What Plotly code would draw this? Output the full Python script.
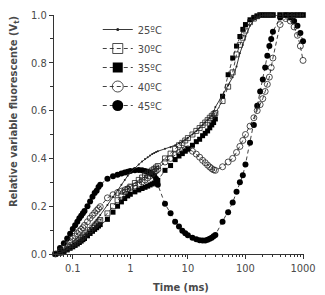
import plotly.graph_objects as go

# Time points (ms)
time_ms = [0.05, 0.06, 0.07, 0.08, 0.09, 0.10, 0.11, 0.12, 0.13, 0.14, 0.15, 0.16, 0.18, 0.20, 0.22, 0.24, 0.26, 0.28, 0.30,
           0.4, 0.5, 0.6, 0.7, 0.8, 0.9, 1.0, 1.2, 1.4, 1.6, 1.8, 2.0, 2.2, 2.4, 2.6, 2.8, 3.0,
           4, 5, 6, 7, 8, 9, 10, 12, 14, 16, 18, 20, 22, 24, 26, 28, 30,
           40, 50, 60, 70, 80, 90, 100, 120, 140, 160, 180, 200, 220, 240, 260, 280, 300,
           400, 500, 600, 700, 800, 900, 1000]

v25 = [0.0, 0.005, 0.012, 0.02, 0.028, 0.036, 0.044, 0.052, 0.06, 0.067, 0.074, 0.081, 0.095, 0.108, 0.12, 0.132, 0.143, 0.153, 0.163,
       0.205, 0.24, 0.268, 0.29, 0.31, 0.327, 0.34, 0.36, 0.375, 0.387, 0.397, 0.405, 0.412, 0.418, 0.423, 0.427, 0.43,
       0.44, 0.447, 0.455, 0.463, 0.47, 0.478, 0.486, 0.50, 0.515, 0.528, 0.54, 0.55, 0.56, 0.57, 0.58, 0.595, 0.615,
       0.665, 0.705, 0.74, 0.785, 0.84, 0.875, 0.91, 0.955, 0.98, 0.99, 0.995, 1.0, 1.0, 1.0, 1.0, 1.0, 1.0,
       1.0, 1.0, 1.0, 1.0, 1.0, 1.0, 1.0]

v30 = [0.0, 0.006, 0.014, 0.022, 0.03, 0.038, 0.045, 0.052, 0.059, 0.066, 0.072, 0.078, 0.09, 0.10, 0.11, 0.119, 0.127, 0.135, 0.142,
       0.17, 0.2, 0.225, 0.245, 0.26, 0.272, 0.282, 0.297, 0.31, 0.32, 0.33, 0.337, 0.344, 0.35, 0.356, 0.362, 0.368,
       0.40, 0.42, 0.44, 0.455, 0.465, 0.475, 0.485, 0.50, 0.515, 0.527, 0.54, 0.55, 0.56, 0.57, 0.578, 0.585, 0.59,
       0.64, 0.70, 0.76, 0.835, 0.875, 0.905, 0.935, 0.97, 0.985, 0.995, 1.0, 1.0, 1.0, 1.0, 1.0, 1.0, 1.0,
       1.0, 1.0, 1.0, 1.0, 1.0, 1.0, 1.0]

v35 = [0.0, 0.004, 0.01, 0.017, 0.024, 0.03, 0.036, 0.042, 0.048, 0.054, 0.06, 0.065, 0.076, 0.086, 0.095, 0.103, 0.11, 0.117, 0.123,
       0.145, 0.175, 0.2, 0.218, 0.232, 0.243, 0.25, 0.26, 0.268, 0.274, 0.279, 0.284, 0.289, 0.293, 0.297, 0.302, 0.308,
       0.35, 0.37, 0.395, 0.41, 0.42, 0.43, 0.44, 0.455, 0.47, 0.48, 0.495, 0.505, 0.515, 0.528, 0.54, 0.55, 0.565,
       0.66, 0.75, 0.82, 0.87, 0.91, 0.94, 0.96, 0.98, 0.99, 0.995, 1.0, 1.0, 1.0, 1.0, 1.0, 1.0, 1.0,
       1.0, 1.0, 1.0, 1.0, 1.0, 1.0, 1.0]

v40 = [0.0, 0.012, 0.025, 0.04, 0.052, 0.065, 0.075, 0.085, 0.095, 0.103, 0.11, 0.12, 0.135, 0.15, 0.162, 0.172, 0.182, 0.19, 0.198,
       0.235, 0.248, 0.257, 0.263, 0.268, 0.273, 0.278, 0.285, 0.293, 0.302, 0.31, 0.318, 0.326, 0.334, 0.342, 0.348, 0.354,
       0.385, 0.40, 0.415, 0.425, 0.433, 0.438, 0.44, 0.43, 0.418, 0.405, 0.392, 0.382, 0.372, 0.364, 0.357, 0.352, 0.35,
       0.365, 0.385, 0.40, 0.425, 0.45, 0.475, 0.50, 0.535, 0.57, 0.60, 0.625, 0.65, 0.68, 0.71, 0.74, 0.78, 0.82,
       0.96, 0.985, 0.975, 0.95, 0.915, 0.87, 0.81]

v45 = [0.0, 0.025, 0.045, 0.065, 0.085, 0.105, 0.12, 0.135, 0.15, 0.16, 0.17, 0.18, 0.20, 0.22, 0.24, 0.255, 0.265, 0.28, 0.29,
       0.315, 0.325, 0.332, 0.337, 0.341, 0.344, 0.347, 0.35, 0.351, 0.35, 0.347, 0.344, 0.34, 0.335, 0.328, 0.315, 0.29,
       0.21, 0.17, 0.135, 0.115, 0.097, 0.087, 0.078, 0.068, 0.062, 0.058, 0.057, 0.057, 0.06, 0.064, 0.068, 0.074, 0.08,
       0.135, 0.175, 0.215, 0.26, 0.30, 0.33, 0.375, 0.465, 0.54, 0.62, 0.68, 0.73, 0.78, 0.83, 0.87, 0.90, 0.93,
       0.99, 1.0, 0.99, 0.975, 0.955, 0.925, 0.89]

labels = ["25ºC", "30ºC", "35ºC", "40ºC", "45ºC"]
x_tick_vals = [0.1, 1, 10, 100, 1000]
x_tick_text = ["0.1", "1", "10", "100", "1000"]
y_tick_vals = [0.0, 0.2, 0.4, 0.6, 0.8, 1.0]

FONT = "Liberation Sans Narrow, Arial Narrow, DejaVu Sans Condensed, sans-serif"
TXT = "#4a4a4a"

styles = [
    dict(line=dict(color="#222", width=0.9), marker=dict(symbol="circle", size=2, color="#222"), lmsize=3),
    dict(line=dict(color="#111", width=0.8, dash="4px,3px"),
         marker=dict(symbol="square-open", size=5, color="#222", line=dict(width=0.8)), lmsize=10),
    dict(line=dict(color="#111", width=0.8, dash="4px,3px"),
         marker=dict(symbol="square", size=5, color="#000"), lmsize=10),
    dict(line=dict(color="#111", width=0.8, dash="4px,3px"),
         marker=dict(symbol="circle-open", size=6, color="#222", line=dict(width=0.8)), lmsize=11),
    dict(line=dict(color="#111", width=0.8, dash="4px,3px"),
         marker=dict(symbol="circle", size=6, color="#000"), lmsize=11),
]

series = [v25, v30, v35, v40, v45]

fig = go.Figure()
for i in [4, 3, 2, 1, 0]:
    st = styles[i]
    fig.add_trace(go.Scatter(x=time_ms, y=series[i], mode="lines+markers",
                             line=st["line"], marker=st["marker"], showlegend=False,
                             cliponaxis=False, hoverinfo="skip"))

for i in range(5):
    st = styles[i]
    mk = dict(st["marker"])
    mk["size"] = st["lmsize"]
    fig.add_trace(go.Scatter(x=[None], y=[None], mode="lines+markers", name=labels[i],
                             line=st["line"], marker=mk, showlegend=True))

minor_vals = []
for e in range(-2, 3):
    for k in range(2, 10):
        v = k * 10 ** e
        if 0.047 <= v <= 1000:
            minor_vals.append(v)

fig.update_layout(
    width=325, height=295,
    margin=dict(l=54, r=18, t=9, b=41),
    paper_bgcolor="white", plot_bgcolor="white",
    font=dict(family=FONT, size=11, color=TXT),
    showlegend=True,
    legend=dict(x=0.175, y=1.0, xanchor="left", yanchor="top",
                bgcolor="rgba(0,0,0,0)", borderwidth=0,
                font=dict(family=FONT, size=11, color=TXT),
                itemwidth=30, tracegroupgap=0),
    xaxis=dict(type="log", range=[-1.326, 3.017],
               tickvals=x_tick_vals, ticktext=x_tick_text,
               ticks="outside", ticklen=4, tickwidth=1, tickcolor="#333",
               showline=True, linecolor="#333", linewidth=1,
               showgrid=False, zeroline=False,
               minor=dict(tickvals=minor_vals, ticks="outside", ticklen=2, tickwidth=1, tickcolor="#333", showgrid=False),
               tickfont=dict(family=FONT, size=11, color=TXT)),
    yaxis=dict(range=[0, 1], tickvals=y_tick_vals, tickformat=".1f",
               ticks="outside", ticklen=4, tickwidth=1, tickcolor="#333",
               showline=True, linecolor="#333", linewidth=1,
               showgrid=False, zeroline=False,
               minor=dict(dtick=0.1, ticks="outside", ticklen=3, tickwidth=1, tickcolor="#333", showgrid=False),
               tickfont=dict(family=FONT, size=11, color=TXT)),
    annotations=[
        dict(text="<b>Relative variable fluorescente (V<sub>t</sub>)</b>", textangle=-90,
             xref="paper", yref="paper", x=-0.162, y=0.596, xanchor="center", yanchor="middle",
             showarrow=False, font=dict(family=FONT, size=11, color=TXT)),
        dict(text="<b>Time (ms)</b>", xref="paper", yref="paper", x=0.506, y=-0.139,
             xanchor="center", yanchor="middle", showarrow=False,
             font=dict(family=FONT, size=11, color=TXT)),
    ],
)

fig.write_html("out.html")
